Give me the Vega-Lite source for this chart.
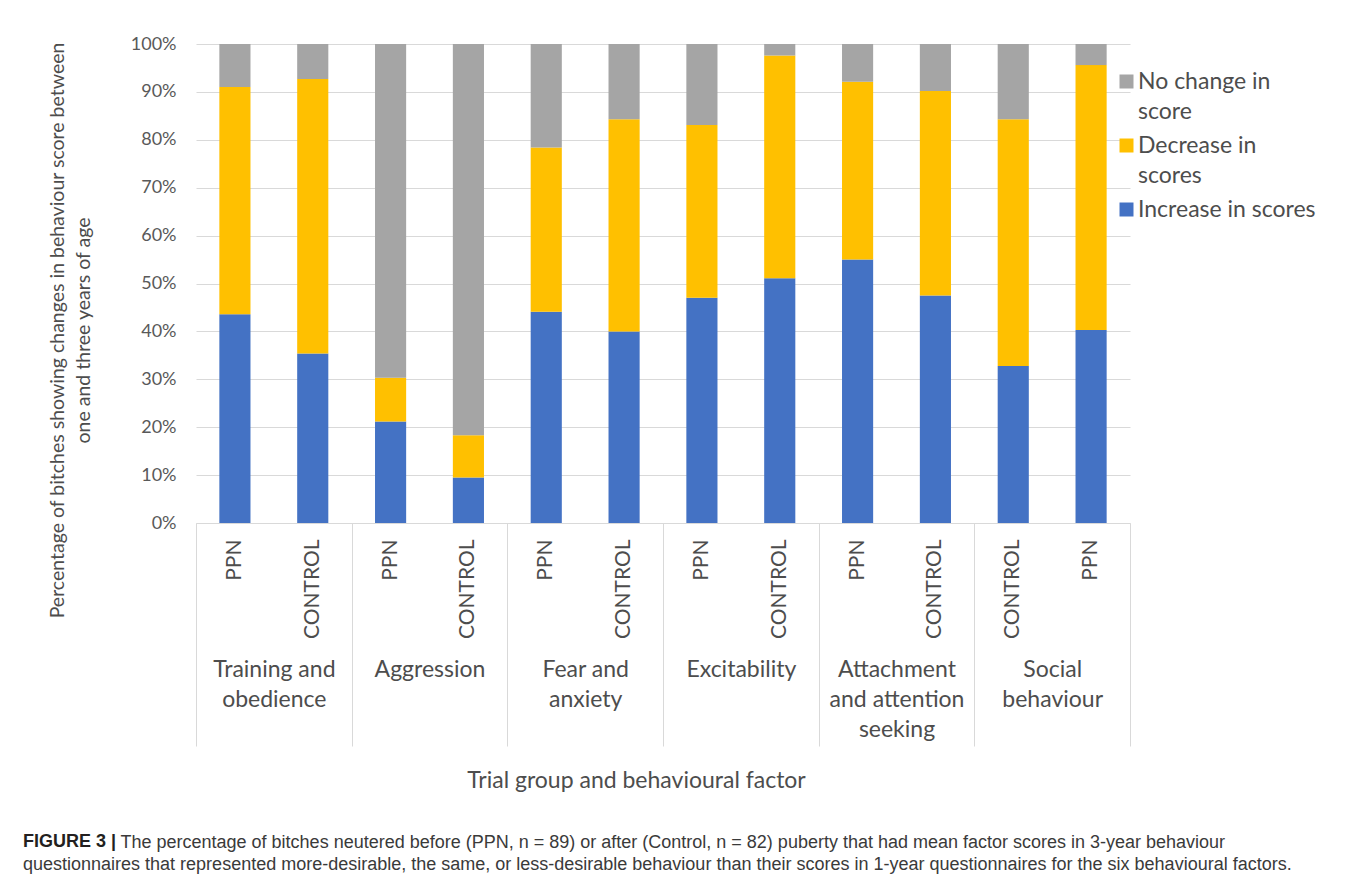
{
  "$schema": "https://vega.github.io/schema/vega-lite/v6.json",
  "width": 934,
  "height": 479,
  "autosize": {"type": "none"},
  "padding": {"left": 196, "top": 44, "right": 230, "bottom": 364},
  "background": "white",
  "config": {
    "font": "Lato",
    "view": {"stroke": null},
    "style": {"guide-label": {"lineHeight": 30}}
  },
  "title": {
    "text": "FIGURE 3 |",
    "subtitle": "questionnaires that represented more-desirable, the same, or less-desirable behaviour than their scores in 1-year questionnaires for the six behavioural factors.",
    "orient": "bottom",
    "anchor": "start",
    "frame": "group",
    "dx": -173,
    "offset": -18,
    "font": "Liberation Sans",
    "fontSize": 18,
    "fontWeight": "bold",
    "color": "#231f20",
    "subtitleFont": "Liberation Sans",
    "subtitleFontSize": 18,
    "subtitleColor": "#3a3a3a",
    "subtitleLineHeight": 24,
    "subtitlePadding": 5
  },
  "data": {
    "values": [
      {"group": "Training and\nobedience", "trial": "PPN", "change": "Increase in scores", "pct": 43.6},
      {"group": "Training and\nobedience", "trial": "PPN", "change": "Decrease in scores", "pct": 47.4},
      {"group": "Training and\nobedience", "trial": "PPN", "change": "No change in score", "pct": 9.0},
      {"group": "Training and\nobedience", "trial": "CONTROL", "change": "Increase in scores", "pct": 35.4},
      {"group": "Training and\nobedience", "trial": "CONTROL", "change": "Decrease in scores", "pct": 57.3},
      {"group": "Training and\nobedience", "trial": "CONTROL", "change": "No change in score", "pct": 7.3},
      {"group": "Aggression", "trial": "PPN", "change": "Increase in scores", "pct": 21.2},
      {"group": "Aggression", "trial": "PPN", "change": "Decrease in scores", "pct": 9.1},
      {"group": "Aggression", "trial": "PPN", "change": "No change in score", "pct": 69.7},
      {"group": "Aggression", "trial": "CONTROL", "change": "Increase in scores", "pct": 9.5},
      {"group": "Aggression", "trial": "CONTROL", "change": "Decrease in scores", "pct": 8.8},
      {"group": "Aggression", "trial": "CONTROL", "change": "No change in score", "pct": 81.7},
      {"group": "Fear and\nanxiety", "trial": "PPN", "change": "Increase in scores", "pct": 44.1},
      {"group": "Fear and\nanxiety", "trial": "PPN", "change": "Decrease in scores", "pct": 34.3},
      {"group": "Fear and\nanxiety", "trial": "PPN", "change": "No change in score", "pct": 21.6},
      {"group": "Fear and\nanxiety", "trial": "CONTROL", "change": "Increase in scores", "pct": 40.0},
      {"group": "Fear and\nanxiety", "trial": "CONTROL", "change": "Decrease in scores", "pct": 44.3},
      {"group": "Fear and\nanxiety", "trial": "CONTROL", "change": "No change in score", "pct": 15.7},
      {"group": "Excitability", "trial": "PPN", "change": "Increase in scores", "pct": 47.0},
      {"group": "Excitability", "trial": "PPN", "change": "Decrease in scores", "pct": 36.1},
      {"group": "Excitability", "trial": "PPN", "change": "No change in score", "pct": 16.9},
      {"group": "Excitability", "trial": "CONTROL", "change": "Increase in scores", "pct": 51.1},
      {"group": "Excitability", "trial": "CONTROL", "change": "Decrease in scores", "pct": 46.5},
      {"group": "Excitability", "trial": "CONTROL", "change": "No change in score", "pct": 2.4},
      {"group": "Attachment\nand attention\nseeking", "trial": "PPN", "change": "Increase in scores", "pct": 55.0},
      {"group": "Attachment\nand attention\nseeking", "trial": "PPN", "change": "Decrease in scores", "pct": 37.1},
      {"group": "Attachment\nand attention\nseeking", "trial": "PPN", "change": "No change in score", "pct": 7.9},
      {"group": "Attachment\nand attention\nseeking", "trial": "CONTROL", "change": "Increase in scores", "pct": 47.5},
      {"group": "Attachment\nand attention\nseeking", "trial": "CONTROL", "change": "Decrease in scores", "pct": 42.7},
      {"group": "Attachment\nand attention\nseeking", "trial": "CONTROL", "change": "No change in score", "pct": 9.8},
      {"group": "Social\nbehaviour", "trial": "CONTROL", "change": "Increase in scores", "pct": 32.8},
      {"group": "Social\nbehaviour", "trial": "CONTROL", "change": "Decrease in scores", "pct": 51.5},
      {"group": "Social\nbehaviour", "trial": "CONTROL", "change": "No change in score", "pct": 15.7},
      {"group": "Social\nbehaviour", "trial": "PPN", "change": "Increase in scores", "pct": 40.3},
      {"group": "Social\nbehaviour", "trial": "PPN", "change": "Decrease in scores", "pct": 55.3},
      {"group": "Social\nbehaviour", "trial": "PPN", "change": "No change in score", "pct": 4.4}
    ]
  },
  "transform": [
    {"calculate": "datum.group + ' / ' + datum.trial", "as": "bar"},
    {"calculate": "indexof(['Increase in scores', 'Decrease in scores', 'No change in score'], datum.change)", "as": "stackRank"}
  ],
  "layer": [
    {
      "mark": {"type": "bar"},
      "encoding": {
        "x": {
          "field": "bar",
          "type": "nominal",
          "sort": null,
          "scale": {"paddingInner": 0.6, "paddingOuter": 0.3},
          "axis": {
            "orient": "bottom",
            "title": "The percentage of bitches neutered before (PPN, n = 89) or after (Control, n = 82) puberty that had mean factor scores in 3-year behaviour",
            "titleFont": "Liberation Sans",
            "titleFontSize": 18,
            "titleFontWeight": "normal",
            "titleColor": "#3a3a3a",
            "titleX": -76,
            "titleY": 324,
            "titleAlign": "left",
            "titleBaseline": "alphabetic",
            "titleLimit": 2000,
            "labelExpr": "split(datum.label, ' / ')[1]",
            "labelAngle": -90,
            "labelFontSize": 21,
            "labelColor": "#4d4d4d",
            "labelPadding": 16,
            "labelOverlap": false,
            "ticks": false,
            "domain": true,
            "domainColor": "#d9d9d9",
            "domainWidth": 1,
            "grid": false
          }
        },
        "y": {
          "field": "pct",
          "type": "quantitative",
          "stack": "zero",
          "scale": {"domain": [0, 100], "nice": false},
          "axis": {
            "title": ["Percentage of bitches showing changes in behaviour score between", "one and three years of age"],
            "titleFontSize": 19.5,
            "titleFontWeight": "normal",
            "titleColor": "#4d4d4d",
            "titleAngle": -90,
            "titleBaseline": "alphabetic",
            "titleAlign": "center",
            "titleX": -133,
            "titleY": 286,
            "titleLineHeight": 26,
            "values": [0, 10, 20, 30, 40, 50, 60, 70, 80, 90, 100],
            "labelExpr": "datum.value + '%'",
            "labelFontSize": 18,
            "labelColor": "#595959",
            "labelPadding": 20,
            "ticks": false,
            "domain": false,
            "grid": true,
            "gridColor": "#d9d9d9",
            "gridWidth": 1
          }
        },
        "color": {
          "field": "change",
          "type": "nominal",
          "scale": {
            "domain": ["No change in score", "Decrease in scores", "Increase in scores"],
            "range": ["#A5A5A5", "#FFC000", "#4472C4"]
          },
          "legend": {
            "title": null,
            "orient": "none",
            "legendX": 919,
            "legendY": 26,
            "symbolType": "square",
            "symbolSize": 196,
            "symbolStrokeWidth": 0,
            "symbolOpacity": 1,
            "labelFontSize": 23,
            "labelColor": "#4d4d4d",
            "labelBaseline": "middle",
            "labelOffset": 0,
            "labelLimit": 300,
            "rowPadding": 10,
            "labelExpr": "datum.label == 'No change in score' ? ['No change in', 'score'] : datum.label == 'Decrease in scores' ? ['Decrease in', 'scores'] : datum.label"
          }
        },
        "order": {"field": "stackRank", "type": "quantitative"}
      }
    },
    {
      "mark": {"type": "rule", "opacity": 0},
      "encoding": {
        "x": {
          "field": "group",
          "type": "nominal",
          "sort": null,
          "scale": {"paddingInner": 0, "paddingOuter": 0},
          "axis": {
            "orient": "bottom",
            "title": "Trial group and behavioural factor",
            "titleFontSize": 23,
            "titleFontWeight": "normal",
            "titleColor": "#4d4d4d",
            "titleX": 440,
            "titleY": 264,
            "titleBaseline": "alphabetic",
            "titleAlign": "center",
            "tickBand": "extent",
            "ticks": true,
            "tickSize": 223,
            "tickColor": "#d9d9d9",
            "tickWidth": 1,
            "domain": false,
            "grid": false,
            "labelExpr": "split(datum.label, '\\n')",
            "labelAngle": 0,
            "labelFontSize": 23,
            "labelLineHeight": 30,
            "labelColor": "#4d4d4d",
            "labelPadding": -88,
            "labelOverlap": false
          }
        }
      }
    }
  ],
  "resolve": {"scale": {"x": "independent"}, "axis": {"x": "independent"}}
}
